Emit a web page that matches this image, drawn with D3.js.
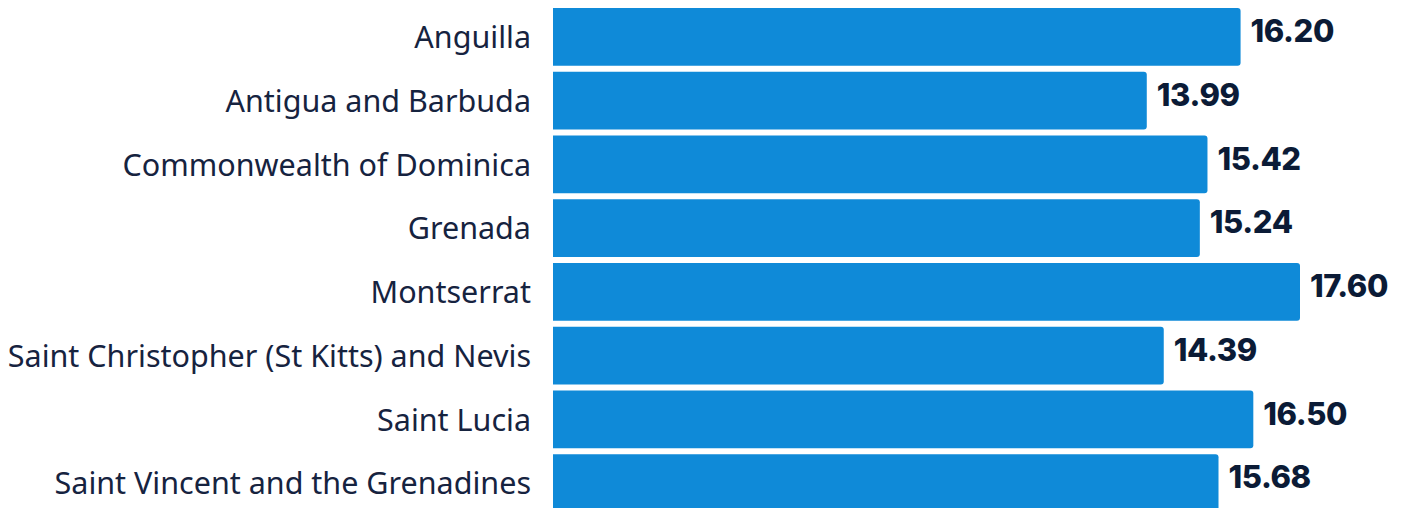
<script src="https://d3js.org/d3.v7.min.js"></script>

<style>
  body { margin: 0; background: #fff; }
</style>

<body>
  <div id="bar-chart"></div>
</body>

<script>
// data
var countries = ["Anguilla", "Antigua and Barbuda", "Commonwealth of Dominica", "Grenada",
  "Montserrat", "Saint Christopher (St Kitts) and Nevis", "Saint Lucia", "Saint Vincent and the Grenadines"]
var values = [16.20, 13.99, 15.42, 15.24, 17.60, 14.39, 16.50, 15.68]

var width = 1411, height = 508
var margin = {top: 8, right: 0, bottom: 0, left: 553}

var svg = d3.select("#bar-chart")
  .append("svg")
  .attr("width", width)
  .attr("height", height)

// 1 unit ~ 42.47px
var x = d3.scaleLinear()
  .domain([0, 17.60])
  .range([margin.left, 1300])

var y = d3.scaleBand()
  .domain(countries)
  .range([margin.top, margin.top + 63 * countries.length])
  .paddingInner(6 / 63)
  .paddingOuter(0)

var r = 3
// bars: flat left edge, rounded right corners
svg.selectAll(".bar")
  .data(values)
  .enter()
  .append("path")
  .attr("class", "bar")
  .attr("fill", "#0f8ad8")
  .attr("d", function(d, i) {
    var x0 = x(0), x1 = x(d), y0 = y(countries[i]), h = y.bandwidth()
    return "M" + x0 + "," + y0 +
      "H" + (x1 - r) + "Q" + x1 + "," + y0 + " " + x1 + "," + (y0 + r) +
      "V" + (y0 + h - r) + "Q" + x1 + "," + (y0 + h) + " " + (x1 - r) + "," + (y0 + h) +
      "H" + x0 + "Z"
  })

// value labels (sit a bit above the bar centre)
svg.selectAll(".val")
  .data(values)
  .enter()
  .append("text")
  .attr("x", function(d) { return x(d) + 10 })
  .attr("y", function(d, i) { return y(countries[i]) + 34 })
  .attr("font-family", "Inter, 'DejaVu Sans', sans-serif")
  .attr("font-weight", 800)
  .attr("font-size", 31)
  .attr("letter-spacing", "-0.4")
  .attr("fill", "#0b1b36")
  .text(function(d) { return d.toFixed(2) })

// category labels
svg.append("g")
  .attr("transform", "translate(" + (margin.left - 22) + ",0)")
  .call(d3.axisLeft(y).tickSize(0).tickPadding(0))
  .call(function(g) { g.select(".domain").remove() })
  .selectAll("text")
  .attr("font-family", "'Source Sans Pro', 'Noto Sans', sans-serif")
  .attr("font-size", 30.5)
  .attr("dy", "0.37em")
  .attr("fill", "#16233f")
</script>
